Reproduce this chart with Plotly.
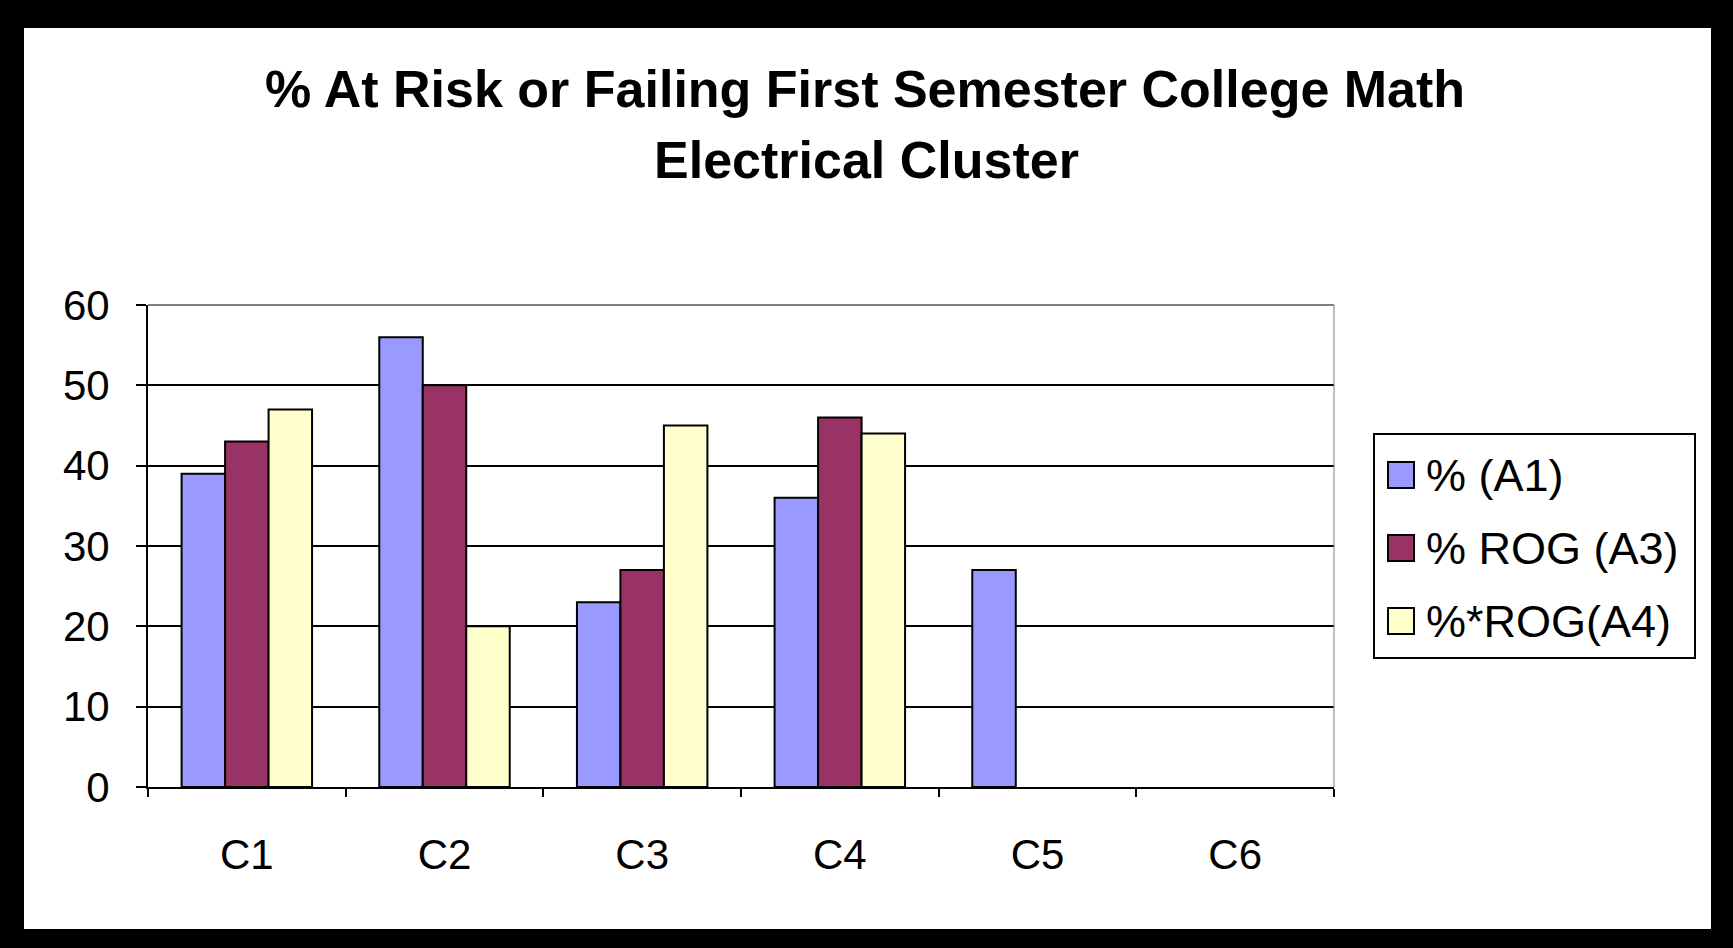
import plotly.graph_objects as go

# ---- data ----
categories = ["C1", "C2", "C3", "C4", "C5", "C6"]
series_names = ["% (A1)", "% ROG (A3)", "%*ROG(A4)"]
a1_values = [39, 56, 23, 36, 27, None]
a3_values = [43, 50, 27, 46, None, None]
a4_values = [47, 20, 45, 44, None, None]
y_ticks = [0, 10, 20, 30, 40, 50, 60]
colors = ["#9999FF", "#993366", "#FFFFCC"]

title_line1 = "% At Risk or Failing First Semester College Math"
title_line2 = "Electrical Cluster"

# ---- layout geometry (pixels) ----
W, H = 1733, 948
L, R, T, B = 148, 399, 305, 161
PW, PH = W - L - R, H - T - B


def px_x(x):
    return (x - L) / PW


def px_y(y):
    return (H - B - y) / PH


FONT = "Liberation Sans, Arial, sans-serif"

fig = go.Figure()
for name, vals, col in zip(series_names, [a1_values, a3_values, a4_values], colors):
    fig.add_trace(go.Bar(
        x=categories, y=vals, name=name,
        marker=dict(color=col, line=dict(color="#000000", width=2)),
        showlegend=False,
    ))

shapes = [
    # white page inside the black frame
    dict(type="rect", xref="paper", yref="paper", layer="below",
         x0=px_x(24), x1=px_x(1711), y0=px_y(929), y1=px_y(28),
         fillcolor="#FFFFFF", line=dict(width=0)),
    # grey plot-area border on top and right
    dict(type="line", xref="paper", yref="paper", x0=0, x1=1, y0=1, y1=1,
         line=dict(color="#808080", width=2)),
    dict(type="line", xref="paper", yref="paper", x0=1, x1=1, y0=0, y1=1,
         line=dict(color="#808080", width=1)),
    # legend box
    dict(type="rect", xref="paper", yref="paper",
         x0=px_x(1374), x1=px_x(1695), y0=px_y(658), y1=px_y(434),
         fillcolor="#FFFFFF", line=dict(color="#000000", width=2)),
]

annotations = [
    dict(text=title_line1, xref="paper", yref="paper", x=px_x(865), y=px_y(89),
         xanchor="center", yanchor="middle", showarrow=False,
         font=dict(family=FONT, size=52, color="#000000", weight="bold")),
    dict(text=title_line2, xref="paper", yref="paper", x=px_x(866), y=px_y(160),
         xanchor="center", yanchor="middle", showarrow=False,
         font=dict(family=FONT, size=52, color="#000000", weight="bold")),
]

row_centers = [475, 548, 621]
for name, col, yc in zip(series_names, colors, row_centers):
    shapes.append(dict(type="rect", xref="paper", yref="paper",
                       x0=px_x(1388), x1=px_x(1414), y0=px_y(yc + 13), y1=px_y(yc - 13),
                       fillcolor=col, line=dict(color="#000000", width=2)))
    annotations.append(dict(text=name, xref="paper", yref="paper",
                            x=px_x(1424), y=px_y(yc), xanchor="left", yanchor="middle",
                            showarrow=False,
                            font=dict(family=FONT, size=45, color="#000000")))

fig.update_layout(
    width=W, height=H,
    margin=dict(l=L, r=R, t=T, b=B, autoexpand=False),
    paper_bgcolor="#000000",
    plot_bgcolor="#C0C0C0",
    barmode="group",
    bargap=0.34,
    bargroupgap=0,
    showlegend=False,
    shapes=shapes,
    annotations=annotations,
    font=dict(family=FONT, size=42, color="#000000"),
)

fig.update_xaxes(
    type="category", categoryorder="array", categoryarray=categories,
    showgrid=False, showline=True, linecolor="#000000", linewidth=2,
    ticks="outside", tickson="boundaries", ticklen=8, tickcolor="#000000", tickwidth=2,
    tickfont=dict(family=FONT, size=42, color="#000000"),
    ticklabelstandoff=30,
    zeroline=False,
)
fig.update_yaxes(
    range=[0, 60], tickvals=y_ticks,
    showgrid=True, gridcolor="#000000", gridwidth=2,
    showline=True, linecolor="#000000", linewidth=2,
    ticks="outside", ticklen=10, tickcolor="#000000", tickwidth=2,
    tickfont=dict(family=FONT, size=42, color="#000000"),
    ticklabelstandoff=18,
    zeroline=False,
)

fig.write_html(
    "out.html",
    config={"displayModeBar": False},
    post_script="document.body.style.margin='0';document.body.style.background='#000';",
)
